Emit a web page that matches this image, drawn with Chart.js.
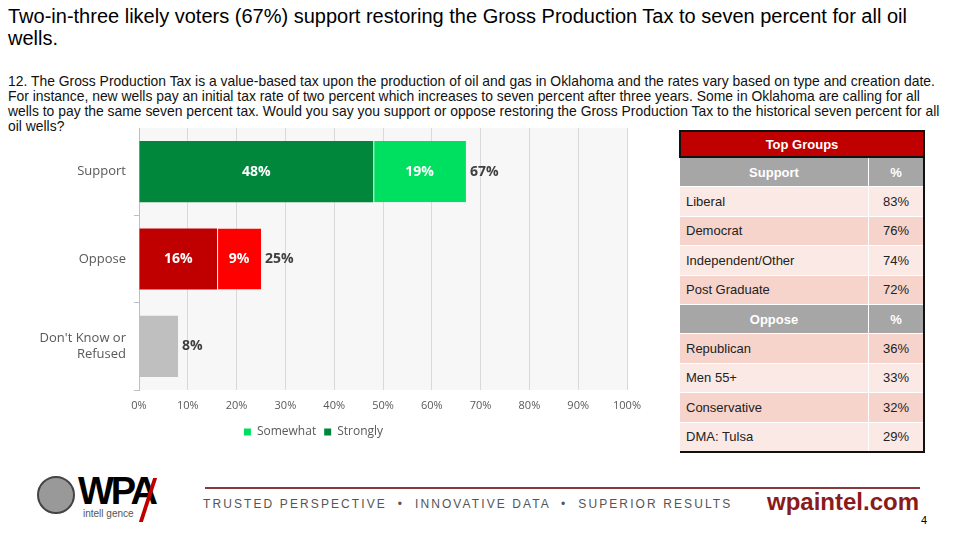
<!DOCTYPE html>
<html>
<head>
<meta charset="utf-8">
<script src="https://cdn.jsdelivr.net/npm/chart.js@4.4.0/dist/chart.umd.min.js"></script>
<style>
  body { margin: 0; width: 960px; height: 540px; background: #fff; position: relative; overflow: hidden; font-family: "Liberation Sans", Arial, sans-serif; }
  #title { position: absolute; left: 8px; top: 5px; font-size: 20px; line-height: 22px; color: #000; white-space: nowrap; }
  #question { position: absolute; left: 8px; top: 74px; font-size: 13.9px; line-height: 15px; color: #111; white-space: nowrap; }
  #chartBox { position: absolute; left: 0; top: 128px; width: 675px; height: 320px; }
  #groups { position: absolute; left: 679px; top: 130px; width: 246px; border-collapse: collapse; font-size: 13px; color: #222; }
  #groups td { height: 28.4px; padding: 0 6px; border-bottom: 1px solid #fff; }
  #groups .top { background: #c00000; color: #fff; font-weight: bold; text-align: center; height: 24px; border: 2px solid #111; }
  #groups .head td { background: #a6a6a6; color: #fff; font-weight: bold; text-align: center; }
  #groups .pct { text-align: center; width: 42px; border-left: 1px solid #fff; }
  #groups .light td { background: #fbe9e6; }
  #groups .dark td { background: #f6d4cc; }
  #groups { border-right: 2px solid #111; border-bottom: 2px solid #111; }
  #line { position: absolute; left: 205px; top: 487px; width: 715px; height: 2px; background: #8b3a3a; }
  #tag { position: absolute; left: 203px; top: 497px; font-size: 12px; letter-spacing: 2.1px; color: #555; white-space: nowrap; }
  #site { position: absolute; left: 767px; top: 488px; font-size: 24px; font-weight: bold; color: #8b1a1a; }
  #page { position: absolute; left: 921px; top: 514px; font-size: 11px; color: #000; }
  #logo { position: absolute; left: 78px; top: 470px; font-size: 38px; font-weight: bold; color: #000; letter-spacing: -3px; }
  #logoSub { position: absolute; left: 83px; top: 508px; font-size: 10px; color: #555; }
  #logoIcon { position: absolute; left: 37px; top: 476px; width: 38px; height: 38px; border-radius: 50%; background: #999; border: 2px solid #444; box-sizing: border-box; }
  #bolt { position: absolute; left: 146px; top: 478px; width: 4px; height: 44px; background: #c00000; transform: skewX(-18deg); }
</style>
</head>
<body>
<div id="title">Two-in-three likely voters (67%) support restoring the Gross Production Tax to seven percent for all oil<br>wells.</div>
<div id="question">12. The Gross Production Tax is a value-based tax upon the production of oil and gas in Oklahoma and the rates vary based on type and creation date.<br>For instance, new wells pay an initial tax rate of two percent which increases to seven percent after three years. Some in Oklahoma are calling for all<br>wells to pay the same seven percent tax. Would you say you support or oppose restoring the Gross Production Tax to the historical seven percent for all<br>oil wells?</div>
<div id="chartBox"><canvas id="myChart"></canvas></div>
<table id="groups"></table>
<div id="logoIcon"></div>
<div id="logo">WPA</div>
<div id="bolt"></div>
<div id="logoSub">intell gence</div>
<div id="line"></div>
<div id="tag">TRUSTED PERSPECTIVE &nbsp;•&nbsp; INNOVATIVE DATA &nbsp;•&nbsp; SUPERIOR RESULTS</div>
<div id="site">wpaintel.com</div>
<div id="page">4</div>
<script>
const categories = ['Support', 'Oppose', ["Don't Know or", 'Refused']];
const strongly = [48, 16, null];
const somewhat = [19, 9, null];
const unsure = [null, null, 8];

const supportGroups = ['Liberal', 'Democrat', 'Independent/Other', 'Post Graduate'];
const supportValues = ['83%', '76%', '74%', '72%'];
const opposeGroups = ['Republican', 'Men 55+', 'Conservative', 'DMA: Tulsa'];
const opposeValues = ['36%', '33%', '32%', '29%'];

// right-hand table
const table = document.getElementById('groups');
let html = '<tr><td class="top" colspan="2">Top Groups</td></tr>';
html += '<tr class="head"><td>Support</td><td class="pct">%</td></tr>';
const supShade = ['light', 'dark', 'light', 'dark'];
supportGroups.forEach((g, i) => {
    html += `<tr class="${supShade[i]}"><td>${g}</td><td class="pct">${supportValues[i]}</td></tr>`;
});
html += '<tr class="head"><td>Oppose</td><td class="pct">%</td></tr>';
const oppShade = ['dark', 'light', 'dark', 'light'];
opposeGroups.forEach((g, i) => {
    html += `<tr class="${oppShade[i]}"><td>${g}</td><td class="pct">${opposeValues[i]}</td></tr>`;
});
table.innerHTML = html;

const plotBg = {
    id: 'plotBg',
    beforeDraw(chart) {
        const { ctx, chartArea: a } = chart;
        ctx.save();
        ctx.fillStyle = '#f7f7f7';
        ctx.fillRect(a.left, a.top, a.right - a.left, a.bottom - a.top);
        ctx.restore();
    }
};

const barLabels = {
    id: 'barLabels',
    afterDatasetsDraw(chart) {
        const ctx = chart.ctx;
        ctx.save();
        ctx.font = 'bold 14px "Open Sans"';
        ctx.textBaseline = 'middle';
        // values inside the two stacked segments
        [0, 1].forEach(di => {
            chart.getDatasetMeta(di).data.forEach((bar, i) => {
                const v = chart.data.datasets[di].data[i];
                if (!v) return;
                ctx.fillStyle = '#fff';
                ctx.textAlign = 'center';
                ctx.fillText(v + '%', (bar.x + bar.base) / 2, bar.y);
            });
        });
        // totals after the bar ends
        categories.forEach((c, i) => {
            const total = (strongly[i] || 0) + (somewhat[i] || 0) + (unsure[i] || 0);
            let end = 0, y = 0;
            [0, 1, 2].forEach(di => {
                const bar = chart.getDatasetMeta(di).data[i];
                if (chart.data.datasets[di].data[i]) { end = Math.max(end, bar.x); y = bar.y; }
            });
            ctx.fillStyle = '#404040';
            ctx.textAlign = 'left';
            ctx.fillText(total + '%', end + 4, y);
        });
        ctx.restore();
    }
};

const myChart = new Chart(document.getElementById('myChart'), {
    type: 'bar',
    data: {
        labels: categories,
        datasets: [
            { label: 'Strongly', data: strongly, backgroundColor: ['#00873c', '#c00000', '#00873c'] },
            { label: 'Somewhat', data: somewhat, backgroundColor: ['#00e060', '#ff0000', '#00e060'], borderColor: '#ffffff', borderWidth: { left: 1 }, borderSkipped: false },
            { label: 'Unsure', data: unsure, backgroundColor: '#bfbfbf' }
        ]
    },
    options: {
        indexAxis: 'y',
        responsive: true,
        maintainAspectRatio: false,
        animation: false,
        categoryPercentage: 1,
        barPercentage: 0.7,
        layout: { padding: { left: 0, right: 48, top: 0, bottom: 0 } },
        scales: {
            x: {
                stacked: true,
                min: 0,
                max: 100,
                grid: { color: '#d9d9d9', drawTicks: false },
                border: { display: false },
                ticks: {
                    stepSize: 10,
                    padding: 9,
                    color: '#595959',
                    font: { family: 'Open Sans', size: 11 },
                    callback: v => v + '%'
                },
                afterFit: s => { s.height = 28; }
            },
            y: {
                stacked: true,
                grid: { drawOnChartArea: false, drawTicks: true, tickLength: 5, color: '#bfbfbf' },
                border: { display: true, color: '#bfbfbf' },
                ticks: {
                    color: '#595959',
                    padding: 8,
                    font: { family: 'Open Sans', size: 13 }
                },
                afterFit: s => { s.width = 139; s.paddingTop = 0; s.paddingBottom = 0; }
            }
        },
        plugins: {
            legend: {
                position: 'bottom',
                labels: {
                    color: '#595959',
                    font: { family: 'Open Sans', size: 12 },
                    boxWidth: 7,
                    boxHeight: 7,
                    padding: 8,
                    generateLabels: () => [
                        { text: 'Somewhat', fillStyle: '#00e060', strokeStyle: '#00e060', lineWidth: 0, fontColor: '#595959', datasetIndex: 1 },
                        { text: 'Strongly', fillStyle: '#00873c', strokeStyle: '#00873c', lineWidth: 0, fontColor: '#595959', datasetIndex: 0 }
                    ]
                }
            },
            tooltip: { enabled: false }
        }
    },
    plugins: [plotBg, barLabels]
});
</script>
</body>
</html>
